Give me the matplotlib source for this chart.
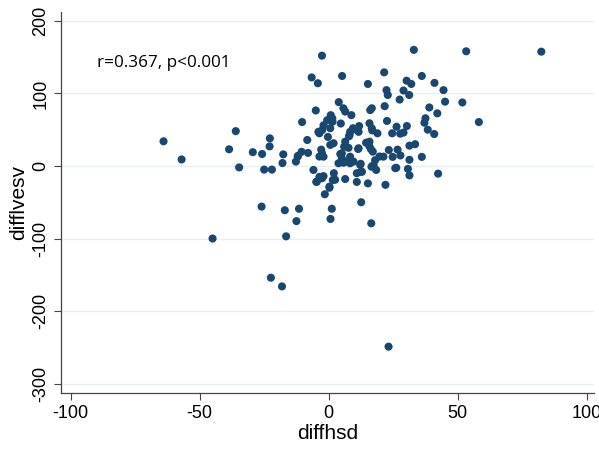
import numpy as np
import matplotlib.pyplot as plt

# Данные (оценены по рисунку)
diffhsd = [
    -64, -57, -45, -38.6, -36, -34.7, -29.4, -25.8, -22.8, -22.9, -25, -22,
    -17.6, -17.9, -12.7, -11.9, -26, -17, -11.5, -12.5, -16.5, -22.4, -18.1, 23.2,
    -1.5, 0.3, 1.2, 0.7, 12.6, 16.5, -4.8, 2.5, 6.4, 10.9, 15.2, 22, -2, -3.6,
    -5.9, 2, 12.9, 10.9,
    -2.6, 33, 53.3, 82.4, -6.6, -4.2, 5.2, 15.2, 21.5, 30.2, 32, 36.1, 41, 44.5,
    45.1, 51.8, 58.2, 22.4, 22.9, 29, 31.2, 27.5, 21.7, 16.7, 16.1, 39, 42.1,
    37.5, 37.1, 38.4, 40.9, 42.4, 36.1, 33.5, 31.3, 31.3, 30.7, 31.3, 26.2, 27.8,
    26.7, 23.3, 24.8, 30.3, 26.3, 24.6, 27.7, 29, 22.6, 15.8, 16.9, 18.9, 14.5,
    15.8, 16.4, 19.7, 18, 17.4, 16.6, 18.4, 12.4, 11.4, 12.5, 21.2, 25.8,
    -10.3, -5, -4, -3.6, -2.9, -3.6, -2, -2, -0.6, -0.3, 0.8, 1.4, 0.6, 1.9, 3.9,
    5.7, 8.8, 4.7, 8.3, 9.9, 11.8, 7.9, 6.4, 6, 7.7, 4.5, 5.1, 3.8, 5.7, 7, 8.3,
    0.6, 1.5, 6.4, 9.4, 8.1, 11.6, 16.7, 15.8, 17.1, 11.6, 5.1, 8.3, 9.6, 12.2,
    -12, -10.5, -8, -8.3, -2.6, -2.6, -4.6, 0.3, 1.6, -2.5,
]
difflvesv = [
    34, 9, -100, 23, 48, -2, 19, 16.5, 38, 27, -5, -5,
    16, 4, 6, 14, -56, -61, -59, -76, -97, -154, -166, -249,
    -39, -30, -59, -73, -50, -79, -22, -19, -18, -22, -24, -26, -14, -15,
    -5.5, -10, -8, -10,
    152, 160, 158, 157.5, 122, 114, 124, 113, 129, 117.5, 113, 124, 114.5, 104.5,
    88.6, 87.5, 60.5, 104.5, 97.8, 104, 97.8, 91.5, 82.4, 79.5, 77, 80.6, 72.5,
    65.7, 59.6, 50, 44, -10.6, 12.5, 30, 28, 8.5, -4, -13, -2.5, 14.5,
    22.5, 22, 12.5, 55, 54, 45, 44.5, 46, 62, 58.8, 49, 45, 32,
    27, 23, 13, 8, 1.4, -1, -5.5, 3, 23.4, -8, 12.8, -3,
    60.5, 76.5, 47, 45, 22.5, 13, 12.8, 56, 63, 40, 70, 65.7, 29, 31.3, 88,
    79.5, 70, 58.5, 47, 50.6, 55, 41, 33.5, 26.6, 25, 16.5, 10.6, 3.7, 4.5, 6, 3.7,
    52, 61, 75, 52, 42.7, 47, 52, 33.5, 19.7, 24.4, 17.5, 12.8, 6, 1.4,
    13, 19.5, 18, 35.8, 17.5, -17, -21.6, -28.5, -19.3, 49.6,
]

xticks = [-100, -50, 0, 50, 100]
yticks = [-300, -200, -100, 0, 100, 200]

fig = plt.figure(figsize=(5.99, 4.49), dpi=100)
ax = fig.add_axes([0.102, 0.125, 0.89, 0.848])

ax.scatter(diffhsd, difflvesv, s=34, color='#1a476f', edgecolors='none', zorder=3)

ax.set_xlim(-103.7, 102.9)
ax.set_ylim(-312.7, 212)
ax.set_xticks(xticks)
ax.set_yticks(yticks)
ax.set_xticklabels([str(t) for t in xticks], fontsize=13, family='Liberation Sans')
ax.set_yticklabels([str(t) for t in yticks], fontsize=13, family='Liberation Sans',
                   rotation=90, va='center')
ax.tick_params(length=5, width=0.8, color='#444444')

# Горизонтальная сетка
ax.grid(True, axis='y', color='#e6eff2', linewidth=1.0, zorder=0)
for s in ['top', 'right']:
    ax.spines[s].set_visible(False)
for s in ['left', 'bottom']:
    ax.spines[s].set_color('#444444')
    ax.spines[s].set_linewidth(0.9)

ax.set_xlabel('diffhsd', fontsize=15, family='Liberation Sans', labelpad=2)
ax.set_ylabel('difflvesv', fontsize=15, family='Liberation Sans', labelpad=3)

ax.text(-89.7, 142, 'r=0.367, p<0.001', fontsize=12.3, family='Open Sans',
        va='center', ha='left')

fig.savefig('out.png', dpi=100)
